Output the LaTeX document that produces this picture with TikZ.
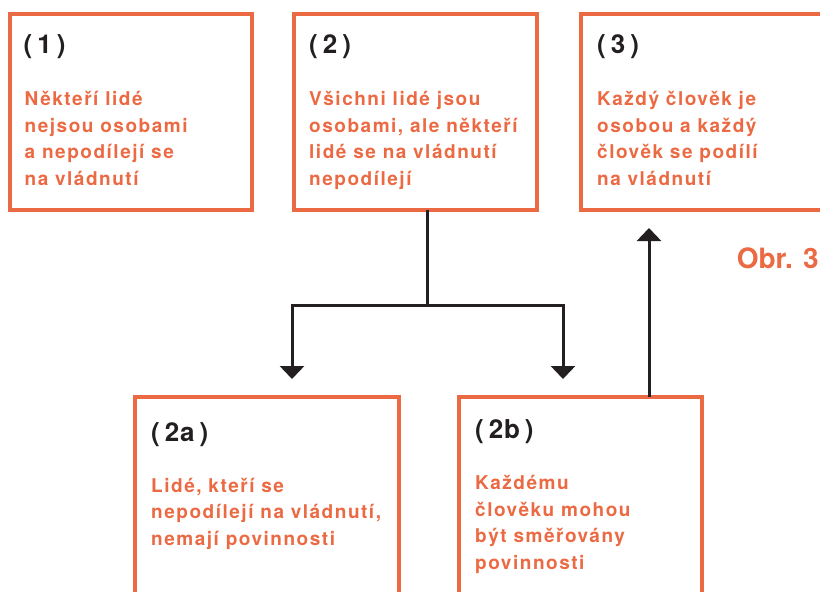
\documentclass[tikz,border=0pt]{standalone}
\usepackage{fontspec}
\setmainfont{TeX Gyre Heros}
\newfontfamily\bodyfont{TeX Gyre Heros}[LetterSpace=8]
\newfontfamily\numfont{TeX Gyre Heros}[LetterSpace=3]
\usepackage{tikz}
\usetikzlibrary{arrows.meta,positioning,calc}
\definecolor{obrorange}{HTML}{EC6A43}
\definecolor{obrblack}{HTML}{231F20}
\newcommand{\boxnum}[1]{(\kern5pt#1\kern5pt)}

\begin{document}
\begin{tikzpicture}[x=1pt,y=-1pt,
    box/.style={draw=obrorange, line width=4pt, inner sep=0pt, outer sep=0pt,
        minimum width=243pt, minimum height=196pt},
    numtext/.style={anchor=base west, inner sep=0pt, text=obrblack,
        font=\numfont\bfseries\fontsize{26}{30}\selectfont},
    % base of a multi-line node = its last line
    bodytext/.style={anchor=base west, inner sep=0pt, align=left, text=obrorange,
        font=\bodyfont\bfseries\fontsize{19}{26.4}\selectfont},
    conn/.style={draw=obrblack, line width=3pt,
        -{Triangle[width=24pt,length=13pt]}, shorten >=18pt}]
    \useasboundingbox (0,0) rectangle (820,592);
    \clip (0,0) rectangle (820,592);

    % upper row
    \node[box, anchor=north west, minimum width=242.5pt] (b1) at (9.5,14) {};
    \node[box, right=42pt of b1] (b2) {};
    \node[box, right=44pt of b2, minimum width=260pt] (b3) {};

    % lower row
    \node[box, anchor=north west, minimum width=264pt, minimum height=230pt] (b2a) at (135,397) {};
    \node[box, right=60pt of b2a, minimum height=230pt] (b2b) {};

    \node[numtext] (n1) at ($(b1.north west)+(14,39)$) {\boxnum{1}};
    \node[numtext] (n2) at ($(b2.north west)+(15,39)$) {\boxnum{2}};
    \node[numtext] (n3) at ($(b3.north west)+(16,39)$) {\boxnum{3}};
    \node[numtext] (n2a) at ($(b2a.north west)+(16,44)$) {\boxnum{2a}};
    \node[numtext] (n2b) at ($(b2b.north west)+(16,41)$) {\boxnum{2b}};

    \node[bodytext] (t1) at ($(b1.north west)+(15,171)$)
        {Někteří lidé\\nejsou osobami\\a nepodílejí se\\na vládnutí};
    \node[bodytext] (t2) at ($(b2.north west)+(15,171)$)
        {Všichni lidé jsou\\osobami, ale někteří\\lidé se na vládnutí\\nepodílejí};
    \node[bodytext] (t3) at ($(b3.north west)+(16,171)$)
        {Každý člověk je\\osobou a každý\\člověk se podílí\\na vládnutí};
    \node[bodytext] (t2a) at ($(b2a.north west)+(16,148)$)
        {Lidé, kteří se\\nepodílejí na vládnutí,\\nemají povinnosti};
    \node[bodytext] (t2b) at ($(b2b.north west)+(16,172)$)
        {Každému\\člověku mohou\\být směřovány\\povinnosti};

    \node[anchor=base east, inner sep=0pt, text=obrorange,
        font=\bfseries\fontsize{28}{32}\selectfont] (obr) at (819,268) {Obr. 3};

    % connectors
    \coordinate (fork) at (427,305);
    \draw[draw=obrblack, line width=3pt] (b2.south -| fork) -- (fork);
    \draw[conn] (fork) -| ([xshift=157pt]b2a.north west);
    \draw[conn] (fork) -| ([xshift=104pt]b2b.north west);
    \draw[conn] ([xshift=190pt]b2b.north west) -- ([xshift=190pt]b2b.north west |- b3.south);
\end{tikzpicture}
\end{document}
